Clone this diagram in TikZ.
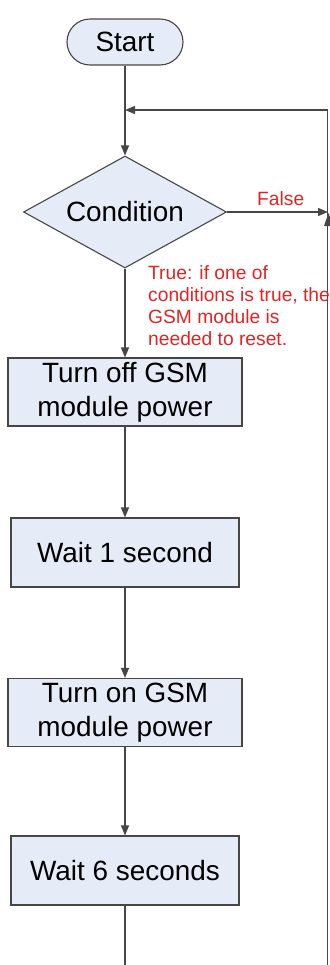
\documentclass[tikz,border=0pt]{standalone}
\usepackage{fontspec}
\setmainfont{Liberation Sans}
\usetikzlibrary{shapes.geometric,arrows.meta}
\definecolor{boxfill}{RGB}{230,236,247}
\definecolor{edge}{RGB}{70,70,70}
\definecolor{note}{RGB}{225,35,35}
\tikzset{
  box/.style={draw=edge, fill=boxfill, line width=1.1bp, inner sep=0pt, align=center,
    font=\fontsize{28}{34}\selectfont},
  stepbox/.style={box, rectangle, minimum width=234bp, minimum height=68bp},
  waitbox/.style={box, rectangle, minimum width=228bp, minimum height=69bp},
  terminal/.style={box, rectangle, rounded corners=23bp, minimum width=116bp, minimum height=46bp},
  decision/.style={box, diamond, aspect=1.8125, minimum width=203bp, minimum height=112bp},
  conn/.style={draw=edge, line width=1.1bp},
  arr/.style={conn, -{Triangle[length=10bp,width=8bp]}},
  label/.style={text=note, inner sep=0pt, font=\fontsize{19.3}{22}\selectfont}
}
\begin{document}
\begin{tikzpicture}[x=1bp,y=-1bp]
\useasboundingbox (0,0) rectangle (329,965);
\node[terminal] (start) at (125,42) {Start};
\node[decision] (cond) at (125,212) {Condition};
\node[stepbox] (off) at (125,392) {Turn off GSM\\module power};
\node[waitbox] (w1) at (125,552.5) {Wait 1 second};
\node[stepbox] (on) at (125,712.5) {Turn on GSM\\module power};
\node[waitbox] (w6) at (125,870.5) {Wait 6 seconds};
\coordinate (join) at (125,110);
\coordinate (looptop) at (327.5,110);
\coordinate (loopbot) at (327.5,966);
\coordinate (falseend) at (328,212);
\coordinate (bottom) at (125,966);
\draw[conn] (start.south) -- (join);
\draw[arr] (join) -- (cond.north);
\draw[arr] (loopbot) -- (looptop) -- (join);
\draw[arr] (cond.east) -- (falseend);
\draw[arr] (cond.south) -- (off.north);
\draw[arr] (off.south) -- (w1.north);
\draw[arr] (w1.south) -- (on.north);
\draw[arr] (on.south) -- (w6.north);
\draw[conn] (w6.south) -- (bottom);
\fill[edge] (328.5,213) -- (324,226) -- (333,226) -- cycle;
\node[label, anchor=base west] (falselbl) at (257,205) {False};
\node[label, anchor=north west, align=left] (truelbl) at (148,265.5)
  {True: if one of\\conditions is true, the\\GSM module is\\needed to reset.};
\end{tikzpicture}
\end{document}
